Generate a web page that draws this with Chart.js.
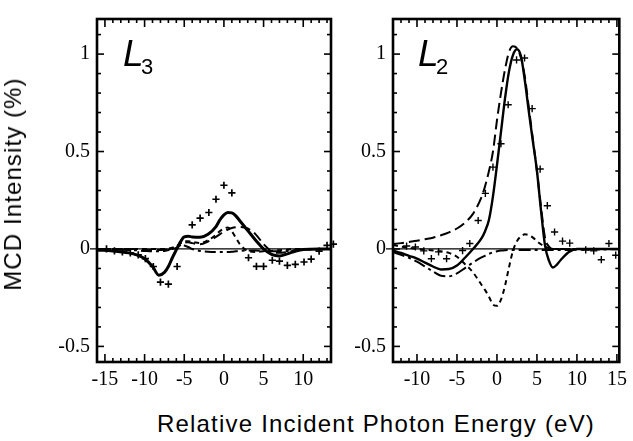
<!DOCTYPE html>
<html>
<head>
<meta charset="utf-8">
<script src="https://cdn.jsdelivr.net/npm/chart.js@4.4.1/dist/chart.umd.min.js"></script>
<style>
  html, body { margin: 0; padding: 0; background: #fff; }
  body { width: 633px; height: 441px; position: relative; overflow: hidden; }
  canvas { position: absolute; top: 0; }
  #cL3 { left: 0; }
  #cL2 { left: 340px; }
  .t { position: absolute; white-space: nowrap; color: #000; font-family: "Liberation Sans", Arial, sans-serif; }
  #ytitle { left: 12.6px; top: 184px; font-size: 24px; line-height: 24px; letter-spacing: 1.1px;
            transform: translate(-50%, -50%) rotate(-90deg); }
  #xtitle { left: 376px; top: 423.6px; font-size: 24px; line-height: 24px; letter-spacing: 1.2px;
            transform: translate(-50%, -50%); }
  .L { font-size: 37px; line-height: 37px; font-style: italic; }
  .sub { font-size: 22px; line-height: 22px; }
</style>
</head>
<body>
<canvas id="cL3" width="340" height="400"></canvas>
<canvas id="cL2" width="293" height="400"></canvas>
<div class="t" id="ytitle">MCD Intensity (%)</div>
<div class="t" id="xtitle">Relative Incident Photon Energy (eV)</div>
<div class="t L" style="left:123px;top:35.4px;">L</div>
<div class="t sub" style="left:141px;top:56.4px;">3</div>
<div class="t L" style="left:418px;top:35.4px;">L</div>
<div class="t sub" style="left:436px;top:56.4px;">2</div>
<script>
// ---------- tick labels ----------
const yTicks   = [-0.5, 0, 0.5, 1];
const l3XTicks = [-15, -10, -5, 0, 5, 10];
const l2XTicks = [-10, -5, 0, 5, 10, 15];

// ---------- L3 panel ----------
const l3X         = [-16,-14,-12,-11,-10,-9,-8.2,-7.5,-7,-6.5,-6,-5.5,-5,-4.5,-4,-3,-2,-1,-0.5,0,0.5,1,1.5,2,3,4,5,6,7,8,9,10,12,13.5];
const l3Solid     = [-0.005,-0.01,-0.02,-0.03,-0.05,-0.09,-0.135,-0.12,-0.09,-0.045,-0.005,0.035,0.062,0.065,0.062,0.06,0.075,0.115,0.15,0.175,0.187,0.185,0.17,0.145,0.095,0.045,0.0,-0.028,-0.036,-0.025,-0.012,-0.003,0,0];
const l3LongDash  = [0,0,0,0,-0.004,-0.005,-0.005,-0.004,-0.002,0,0.006,0.02,0.032,0.035,0.03,0.024,0.038,0.062,0.076,0.09,0.1,0.108,0.112,0.113,0.105,0.075,0.025,-0.012,-0.02,-0.015,-0.008,-0.003,0,0];
const l3ShortDash = [0,0,0,0,0,0,0,0,0.002,0.006,0.015,0.028,0.038,0.04,0.036,0.03,0.045,0.072,0.092,0.105,0.11,0.09,0.058,0.025,-0.01,-0.015,-0.012,-0.01,-0.006,-0.003,0,0,0,0];
const l3DashDot   = [0,-0.003,-0.005,-0.007,-0.01,-0.012,-0.012,-0.01,-0.005,0.004,0.014,0.02,0.018,0.01,0,-0.01,-0.014,-0.015,-0.015,-0.015,-0.015,-0.014,-0.012,-0.01,-0.008,-0.008,-0.01,-0.012,-0.012,-0.01,-0.007,-0.004,-0.001,0];
const l3PlusX     = [-14.8,-13.8,-12.8,-11.8,-10.8,-9.9,-8.9,-8.0,-7.0,-5.9,-4.0,-3.0,-1.9,-1.0,0.0,1.0,3.1,4.1,5.0,6.1,7.0,8.0,9.0,10.1,11.0,12.0,13.0,13.8];
const l3PlusY     = [0.0,-0.01,-0.015,-0.02,-0.03,-0.05,-0.09,-0.17,-0.18,-0.09,0.124,0.158,0.187,0.255,0.327,0.288,-0.045,-0.089,-0.089,-0.058,-0.062,-0.084,-0.079,-0.067,-0.052,-0.011,0.018,0.025];

// ---------- L2 panel ----------
const l2X         = [-13,-12,-11,-10,-9,-8,-7,-6,-5,-4,-3,-2,-1.5,-1,-0.5,0,0.5,1,1.5,2,2.5,3,3.5,4,4.5,5,5.5,6,6.5,7,7.5,8,9,10,12,14,15.3];
const l2Solid     = [-0.008,-0.02,-0.035,-0.05,-0.07,-0.09,-0.105,-0.103,-0.085,-0.045,0.0,0.05,0.09,0.15,0.27,0.43,0.6,0.77,0.91,0.995,1.025,0.99,0.86,0.7,0.55,0.4,0.2,0.02,-0.06,-0.095,-0.08,-0.055,-0.015,0,0,0,0];
const l2LongDash  = [0.026,0.03,0.036,0.042,0.05,0.058,0.07,0.085,0.105,0.135,0.18,0.26,0.32,0.4,0.5,0.66,0.8,0.92,1.01,1.04,1.03,0.98,0.88,0.72,0.56,0.4,0.22,0.06,0.012,0,0,0,0,0,0,0,0];
const l2ShortDash = [0.02,0.012,0.006,0,-0.004,-0.008,-0.012,-0.02,-0.04,-0.078,-0.12,-0.18,-0.21,-0.245,-0.285,-0.292,-0.26,-0.19,-0.095,-0.01,0.04,0.065,0.075,0.07,0.058,0.04,0.024,0.012,0.005,0,0,0,0,0,0,0,0];
const l2DashDot   = [-0.016,-0.03,-0.045,-0.065,-0.09,-0.115,-0.137,-0.14,-0.125,-0.098,-0.07,-0.045,-0.035,-0.025,-0.017,-0.012,-0.008,-0.006,-0.005,-0.005,-0.005,-0.005,-0.005,-0.005,-0.005,-0.005,-0.005,-0.005,-0.005,-0.005,-0.005,-0.005,-0.005,-0.004,-0.003,-0.002,-0.002];
const l2PlusX     = [-11.3,-10.2,-9.15,-8.2,-7.3,-6.3,-4.3,-3.4,-2.35,-1.45,-0.5,0.5,1.4,2.45,3.45,4.4,5.4,6.3,7.2,8.2,9.1,11.1,12.1,13.05,14.0,14.85];
const l2PlusY     = [0.015,0.01,-0.01,-0.05,-0.015,-0.05,-0.008,0.028,0.146,0.285,0.42,0.54,0.74,0.97,0.98,0.72,0.41,0.222,0.087,0.04,0.03,-0.005,-0.01,-0.055,0.028,-0.032];

const pts = (xs, ys) => xs.map((x, i) => ({ x: x, y: ys[i] }));
const SERIF = '"Liberation Serif", serif';
Chart.defaults.font.family = SERIF;
Chart.defaults.font.size = 20;
Chart.defaults.color = '#000';

// frame, inward ticks and zero line
const panelPlugin = {
  id: 'panel',
  beforeDatasetsDraw(chart) {
    const { ctx, chartArea: a, scales: { y } } = chart;
    const y0 = y.getPixelForValue(0);
    ctx.save();
    ctx.strokeStyle = '#000';
    ctx.lineWidth = 1.2;
    ctx.beginPath();
    ctx.moveTo(a.left - 7, y0);
    ctx.lineTo(a.right, y0);
    ctx.stroke();
    ctx.restore();
  },
  afterDraw(chart) {
    const { ctx, chartArea: a, scales: { x, y } } = chart;
    ctx.save();
    ctx.strokeStyle = '#000';
    ctx.lineWidth = 1.6;
    const seg = (x1, y1, x2, y2) => { ctx.beginPath(); ctx.moveTo(x1, y1); ctx.lineTo(x2, y2); ctx.stroke(); };
    for (let i = Math.ceil(y.min * 10 - 1e-9); i <= Math.floor(y.max * 10 + 1e-9); i++) {
      const py = y.getPixelForValue(i / 10);
      const len = (i % 5 === 0) ? 7 : 4;
      seg(a.left, py, a.left + len, py);
      seg(a.right, py, a.right - len, py);
    }
    for (let i = Math.ceil(x.min); i <= Math.floor(x.max); i++) {
      const px = x.getPixelForValue(i);
      const len = (i % 5 === 0) ? 8 : 4;
      seg(px, a.bottom, px, a.bottom - len);
      seg(px, a.top, px, a.top + len);
    }
    ctx.lineWidth = 2.6;
    ctx.strokeRect(a.left, a.top, a.right - a.left, a.bottom - a.top);
    ctx.restore();
  }
};

function lineDs(xs, ys, width, dash) {
  return {
    type: 'line', data: pts(xs, ys), borderColor: '#000', borderWidth: width,
    borderDash: dash, pointRadius: 0, fill: false, cubicInterpolationMode: 'monotone'
  };
}
function plusDs(xs, ys, width) {
  return {
    type: 'scatter', data: pts(xs, ys), pointStyle: 'cross', pointRadius: 3.6,
    borderColor: '#000', backgroundColor: '#000', pointBorderWidth: width, borderWidth: width, clip: false
  };
}

function makePanel(id, xMin, xMax, xTicks, yAxisWidth, padRight, datasets) {
  return new Chart(document.getElementById(id), {
    data: { datasets: datasets },
    plugins: [panelPlugin],
    options: {
      responsive: false, animation: false, events: [],
      layout: { autoPadding: false, padding: { top: 15, right: padRight, left: 0, bottom: 0 } },
      plugins: { legend: { display: false }, tooltip: { enabled: false } },
      scales: {
        x: {
          type: 'linear', position: 'bottom', min: xMin, max: xMax,
          grid: { display: false, drawTicks: false }, border: { display: false },
          afterBuildTicks: s => { s.ticks = xTicks.map(v => ({ value: v })); },
          afterFit: s => { s.height = 38; },
          ticks: { color: '#000', padding: 6, maxRotation: 0, autoSkip: false,
                   font: { family: SERIF, size: 20 },
                   callback: v => String(v) }
        },
        y: {
          type: 'linear', position: 'left', min: -0.58, max: 1.18,
          grid: { display: false, drawTicks: false }, border: { display: false },
          afterBuildTicks: s => { s.ticks = yTicks.map(v => ({ value: v })); },
          afterFit: s => { s.width = yAxisWidth; },
          ticks: { color: '#000', padding: 7, autoSkip: false,
                   font: { family: SERIF, size: 20 },
                   callback: v => String(v) }
        }
      }
    }
  });
}

makePanel('cL3', -16, 13.5, l3XTicks, 97, 9, [
  lineDs(l3X, l3DashDot, 2, [11, 4, 3, 4]),
  lineDs(l3X, l3ShortDash, 2, [5, 4]),
  lineDs(l3X, l3LongDash, 2, [10, 5]),
  lineDs(l3X, l3Solid, 3, []),
  plusDs(l3PlusX, l3PlusY, 1.7)
]);
makePanel('cL2', -13, 15.3, l2XTicks, 53, 8, [
  lineDs(l2X, l2DashDot, 2, [12, 4, 3, 4]),
  lineDs(l2X, l2ShortDash, 2, [5, 4]),
  lineDs(l2X, l2LongDash, 2, [11, 5]),
  lineDs(l2X, l2Solid, 2.4, []),
  plusDs(l2PlusX, l2PlusY, 1.4)
]);
</script>
</body>
</html>
